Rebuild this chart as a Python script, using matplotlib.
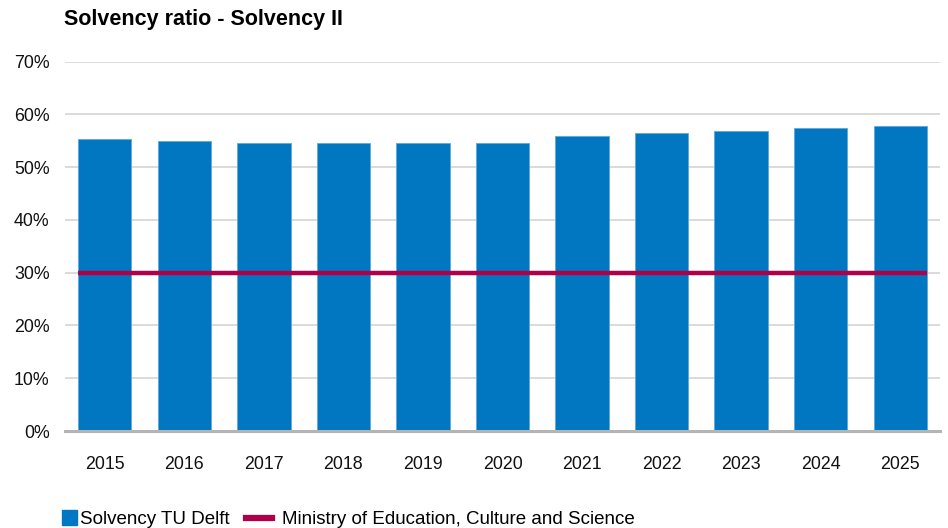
import numpy as np
import matplotlib
matplotlib.use("Agg")
import matplotlib.pyplot as plt
from matplotlib.patches import Patch, Rectangle
from matplotlib.lines import Line2D
from matplotlib.legend_handler import HandlerPatch

matplotlib.rcParams['font.family'] = ['Liberation Sans', 'DejaVu Sans']

years = ["2015", "2016", "2017", "2018", "2019", "2020",
         "2021", "2022", "2023", "2024", "2025"]
solvency_tu = [55.4, 54.9, 54.5, 54.5, 54.5, 54.5, 55.9, 56.4, 56.9, 57.4, 57.8]
ministry_norm = 30.0

blue = "#0077C0"
crimson = "#B0004A"

fig = plt.figure(figsize=(9.48, 5.28), dpi=100)
ax = fig.add_axes([65 / 948, 1 - 431 / 528, 875 / 948, (431 - 61.5) / 528])

x = np.arange(len(years))
width = 0.67
ax.bar(x, solvency_tu, width=width, color=blue, edgecolor="#5FA8DC", linewidth=0.6, zorder=2)
ax.plot([x[0] - width / 2, x[-1] + width / 2], [ministry_norm, ministry_norm],
        color=crimson, linewidth=3.2, solid_capstyle="butt", zorder=3)

ax.set_xlim(-0.5, len(years) - 0.5)
ax.set_ylim(0, 70)
ax.set_yticks(np.arange(0, 71, 10))
ax.set_yticklabels([f"{v}%" for v in range(0, 71, 10)])
ax.set_xticks(x)
ax.set_xticklabels(years)

ax.yaxis.grid(True, color="#D4D4D4", linewidth=1.2, zorder=0)
ax.set_axisbelow(True)
for s in ["top", "right", "left"]:
    ax.spines[s].set_visible(False)
ax.spines["bottom"].set_color("#B5B5B5")
ax.spines["bottom"].set_linewidth(2.2)
ax.tick_params(axis="both", length=0, labelsize=12.8, colors="#111111")
ax.tick_params(axis="x", pad=18)
ax.tick_params(axis="y", pad=11)

fig.text(64 / 948, 1 - 19 / 528, "Solvency ratio - Solvency II", fontsize=15.5,
         fontweight="bold", va="center", ha="left")


# small square legend key, sitting close to its text
def square_key(legend, orig_handle, xdescent, ydescent, width, height, fontsize):
    s = 10.8
    return Rectangle((-xdescent + width + 4.5 - s, -ydescent + (height - s) / 2), s, s)


handles = [Patch(facecolor=blue, edgecolor=blue),
           Line2D([0], [0], color=crimson, linewidth=4.5)]
fig.legend(handles, ["Solvency TU Delft", "Ministry of Education, Culture and Science"],
           loc="lower left", bbox_to_anchor=(37 / 948, -8 / 528), ncol=2, frameon=False,
           fontsize=13.5, handlelength=1.39, handletextpad=0.53,
           columnspacing=0.85, borderaxespad=0.0,
           handler_map={Patch: HandlerPatch(patch_func=square_key)})

fig.savefig("out.png", dpi=100)
